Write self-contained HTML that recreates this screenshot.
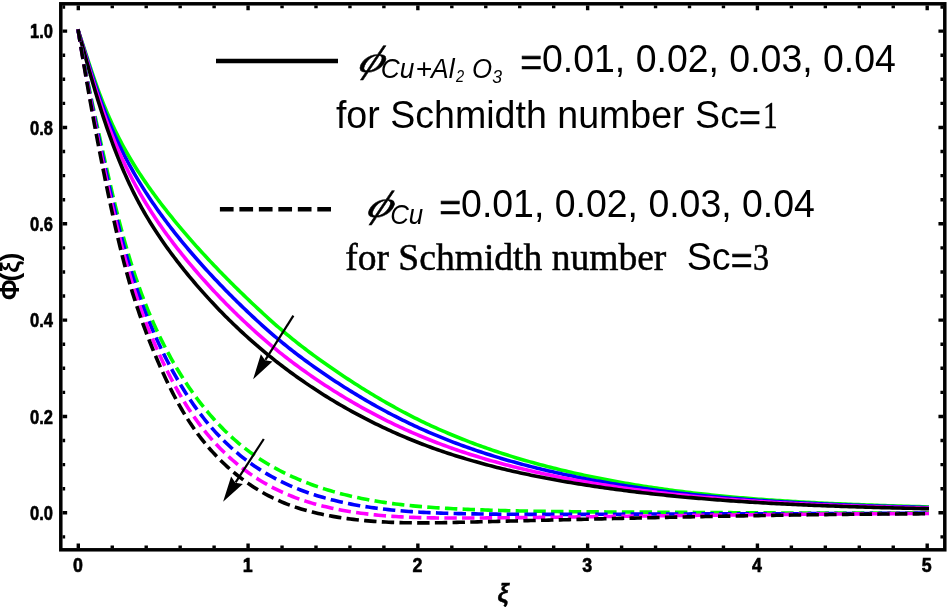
<!DOCTYPE html>
<html><head><meta charset="utf-8"><title>Concentration profile</title>
<style>html,body{margin:0;padding:0;background:#fff;overflow:hidden}svg{display:block}</style>
</head><body>
<svg width="948" height="607" viewBox="0 0 948 607">
<rect width="948" height="607" fill="#fff"/>
<path d="M78.30,31.10 L79.16,33.58 L80.01,36.06 L80.85,38.55 L81.69,41.04 L82.53,43.54 L83.35,46.04 L84.18,48.54 L85.00,51.04 L85.82,53.55 L86.64,56.05 L87.46,58.56 L88.29,61.07 L89.11,63.57 L89.94,66.08 L90.77,68.59 L91.60,71.09 L92.45,73.59 L93.29,76.10 L94.15,78.59 L95.01,81.09 L95.89,83.58 L96.77,86.07 L97.66,88.55 L98.57,91.03 L99.49,93.51 L100.42,95.98 L101.37,98.44 L102.32,100.90 L103.30,103.35 L104.28,105.80 L105.28,108.24 L106.29,110.67 L107.32,113.10 L108.36,115.52 L109.41,117.94 L110.48,120.34 L111.56,122.74 L112.66,125.14 L113.78,127.52 L114.91,129.90 L116.05,132.27 L117.21,134.63 L118.39,136.98 L119.59,139.33 L120.80,141.66 L122.02,143.99 L123.27,146.31 L124.53,148.62 L125.81,150.92 L127.10,153.21 L128.42,155.48 L129.75,157.76 L131.09,160.02 L132.46,162.27 L133.83,164.51 L135.23,166.74 L136.63,168.97 L138.06,171.19 L139.49,173.39 L140.94,175.59 L142.40,177.79 L143.88,179.97 L145.37,182.14 L146.87,184.31 L148.38,186.47 L149.91,188.62 L151.44,190.76 L152.99,192.90 L154.55,195.03 L156.11,197.15 L157.69,199.27 L159.28,201.37 L160.87,203.47 L162.47,205.57 L164.09,207.65 L165.71,209.73 L167.34,211.81 L168.97,213.87 L170.62,215.94 L172.27,217.99 L173.94,220.04 L175.61,222.08 L177.28,224.11 L178.97,226.14 L180.66,228.16 L182.36,230.18 L184.07,232.19 L185.79,234.19 L187.51,236.19 L189.24,238.18 L190.97,240.16 L192.72,242.14 L194.47,244.12 L196.22,246.09 L197.99,248.05 L199.76,250.00 L201.53,251.95 L203.32,253.90 L205.10,255.84 L206.90,257.77 L208.70,259.70 L210.51,261.63 L212.32,263.54 L214.14,265.46 L215.96,267.36 L217.79,269.27 L219.62,271.16 L221.46,273.05 L223.31,274.94 L225.16,276.82 L227.01,278.70 L228.87,280.57 L230.73,282.44 L232.60,284.30 L234.48,286.16 L236.35,288.01 L238.24,289.86 L240.12,291.71 L242.01,293.54 L243.91,295.38 L245.80,297.21 L247.70,299.04 L249.61,300.86 L251.52,302.68 L253.43,304.49 L255.35,306.30 L257.27,308.10 L259.19,309.90 L261.13,311.69 L263.06,313.47 L265.00,315.25 L266.95,317.03 L268.90,318.79 L270.86,320.55 L272.82,322.30 L274.79,324.04 L276.77,325.78 L278.76,327.50 L280.75,329.22 L282.75,330.93 L284.75,332.62 L286.77,334.31 L288.79,335.99 L290.83,337.66 L292.87,339.32 L294.92,340.96 L296.97,342.60 L299.04,344.23 L301.12,345.84 L303.20,347.45 L305.29,349.05 L307.38,350.64 L309.49,352.22 L311.60,353.79 L313.72,355.35 L315.84,356.91 L317.97,358.46 L320.11,359.99 L322.25,361.53 L324.40,363.05 L326.56,364.57 L328.72,366.08 L330.88,367.58 L333.05,369.08 L335.23,370.57 L337.41,372.05 L339.59,373.53 L341.78,375.00 L343.98,376.47 L346.18,377.92 L348.39,379.37 L350.60,380.82 L352.81,382.25 L355.03,383.68 L357.26,385.10 L359.49,386.52 L361.72,387.92 L363.96,389.32 L366.21,390.71 L368.46,392.09 L370.72,393.46 L372.98,394.82 L375.24,396.18 L377.52,397.53 L379.79,398.86 L382.07,400.19 L384.36,401.51 L386.65,402.82 L388.95,404.12 L391.25,405.41 L393.56,406.69 L395.87,407.97 L398.18,409.23 L400.51,410.48 L402.83,411.72 L405.17,412.95 L407.50,414.17 L409.85,415.38 L412.19,416.58 L414.55,417.77 L416.91,418.95 L419.27,420.11 L421.64,421.27 L424.01,422.41 L426.39,423.54 L428.78,424.66 L431.16,425.78 L433.56,426.87 L435.96,427.96 L438.36,429.04 L440.77,430.11 L443.18,431.16 L445.60,432.21 L448.02,433.24 L450.45,434.27 L452.88,435.28 L455.32,436.28 L457.76,437.28 L460.20,438.26 L462.65,439.23 L465.10,440.19 L467.56,441.15 L470.02,442.09 L472.48,443.02 L474.95,443.94 L477.42,444.86 L479.90,445.76 L482.38,446.65 L484.86,447.54 L487.35,448.41 L489.84,449.27 L492.33,450.13 L494.83,450.97 L497.33,451.81 L499.84,452.64 L502.34,453.46 L504.85,454.26 L507.37,455.06 L509.88,455.85 L512.40,456.64 L514.92,457.41 L517.45,458.17 L519.98,458.93 L522.51,459.68 L525.04,460.41 L527.58,461.14 L530.12,461.86 L532.66,462.58 L535.20,463.28 L537.75,463.98 L540.30,464.67 L542.85,465.34 L545.40,466.02 L547.95,466.68 L550.51,467.34 L553.07,467.98 L555.63,468.62 L558.19,469.26 L560.76,469.88 L563.32,470.50 L565.89,471.11 L568.46,471.71 L571.03,472.30 L573.61,472.89 L576.18,473.47 L578.76,474.04 L581.33,474.61 L583.91,475.17 L586.49,475.72 L589.07,476.26 L591.65,476.80 L594.24,477.33 L596.82,477.85 L599.41,478.37 L601.99,478.88 L604.58,479.39 L607.17,479.88 L609.76,480.37 L612.35,480.86 L614.94,481.33 L617.53,481.81 L620.12,482.27 L622.72,482.73 L625.31,483.18 L627.91,483.63 L630.51,484.07 L633.11,484.50 L635.70,484.93 L638.30,485.35 L640.91,485.77 L643.51,486.18 L646.11,486.58 L648.71,486.98 L651.32,487.37 L653.92,487.76 L656.53,488.14 L659.14,488.52 L661.74,488.89 L664.35,489.25 L666.96,489.61 L669.57,489.96 L672.18,490.31 L674.79,490.66 L677.41,490.99 L680.02,491.33 L682.63,491.65 L685.25,491.98 L687.86,492.30 L690.48,492.61 L693.09,492.92 L695.71,493.22 L698.33,493.52 L700.95,493.81 L703.57,494.10 L706.18,494.38 L708.81,494.66 L711.43,494.94 L714.05,495.21 L716.67,495.47 L719.29,495.74 L721.91,495.99 L724.54,496.25 L727.16,496.50 L729.79,496.74 L732.41,496.98 L735.04,497.22 L737.66,497.45 L740.29,497.68 L742.92,497.90 L745.54,498.12 L748.17,498.34 L750.80,498.55 L753.43,498.76 L756.06,498.97 L758.69,499.17 L761.31,499.37 L763.94,499.56 L766.58,499.75 L769.21,499.94 L771.84,500.13 L774.47,500.31 L777.10,500.48 L779.73,500.66 L782.36,500.83 L785.00,501.00 L787.63,501.16 L790.26,501.33 L792.89,501.49 L795.53,501.64 L798.16,501.80 L800.79,501.95 L803.43,502.10 L806.06,502.24 L808.70,502.38 L811.33,502.52 L813.96,502.66 L816.60,502.80 L819.23,502.93 L821.87,503.06 L824.50,503.19 L827.14,503.31 L829.77,503.44 L832.41,503.56 L835.04,503.68 L837.68,503.79 L840.31,503.91 L842.95,504.02 L845.58,504.13 L848.22,504.24 L850.85,504.35 L853.49,504.46 L856.12,504.56 L858.76,504.66 L861.39,504.76 L864.03,504.86 L866.66,504.96 L869.30,505.05 L871.93,505.15 L874.56,505.24 L877.20,505.33 L879.83,505.43 L882.47,505.51 L885.10,505.60 L887.73,505.69 L890.37,505.78 L893.00,505.86 L895.63,505.95 L898.26,506.03 L900.90,506.11 L903.53,506.19 L906.16,506.27 L908.79,506.35 L911.42,506.43 L914.05,506.51 L916.68,506.59 L919.31,506.67 L921.94,506.75 L924.57,506.82 L927.20,506.90" fill="none" stroke="#00ff00" stroke-width="3.6" stroke-linecap="square" stroke-linejoin="round"/>
<path d="M78.30,31.10 L79.11,33.61 L79.91,36.13 L80.71,38.66 L81.51,41.18 L82.30,43.71 L83.09,46.24 L83.88,48.77 L84.66,51.30 L85.45,53.83 L86.24,56.37 L87.02,58.90 L87.81,61.44 L88.61,63.97 L89.40,66.51 L90.20,69.04 L91.00,71.57 L91.81,74.11 L92.62,76.64 L93.44,79.16 L94.27,81.69 L95.10,84.21 L95.95,86.73 L96.80,89.25 L97.66,91.76 L98.54,94.27 L99.42,96.77 L100.31,99.27 L101.22,101.77 L102.13,104.26 L103.06,106.75 L104.00,109.23 L104.95,111.71 L105.91,114.18 L106.88,116.65 L107.87,119.11 L108.87,121.56 L109.88,124.01 L110.91,126.46 L111.94,128.89 L113.00,131.32 L114.06,133.75 L115.14,136.16 L116.23,138.57 L117.34,140.98 L118.46,143.37 L119.60,145.76 L120.75,148.14 L121.92,150.52 L123.11,152.88 L124.30,155.24 L125.52,157.59 L126.75,159.93 L127.99,162.26 L129.25,164.59 L130.53,166.90 L131.81,169.21 L133.12,171.51 L134.43,173.81 L135.77,176.09 L137.11,178.37 L138.47,180.64 L139.84,182.90 L141.23,185.15 L142.63,187.40 L144.04,189.64 L145.47,191.87 L146.91,194.09 L148.36,196.30 L149.82,198.51 L151.30,200.71 L152.79,202.90 L154.29,205.08 L155.80,207.26 L157.33,209.42 L158.86,211.59 L160.41,213.74 L161.96,215.88 L163.53,218.02 L165.11,220.15 L166.70,222.27 L168.30,224.39 L169.91,226.50 L171.53,228.60 L173.16,230.69 L174.80,232.78 L176.44,234.86 L178.10,236.93 L179.77,239.00 L181.45,241.06 L183.13,243.11 L184.82,245.16 L186.53,247.19 L188.24,249.23 L189.96,251.25 L191.68,253.27 L193.42,255.28 L195.16,257.29 L196.91,259.28 L198.67,261.28 L200.43,263.26 L202.20,265.24 L203.98,267.21 L205.77,269.18 L207.56,271.14 L209.36,273.10 L211.17,275.04 L212.98,276.98 L214.80,278.92 L216.62,280.85 L218.45,282.77 L220.29,284.69 L222.14,286.60 L223.99,288.50 L225.84,290.40 L227.70,292.29 L229.57,294.18 L231.45,296.06 L233.32,297.94 L235.21,299.80 L237.10,301.67 L239.00,303.52 L240.90,305.37 L242.80,307.22 L244.72,309.06 L246.63,310.89 L248.56,312.72 L250.49,314.53 L252.42,316.35 L254.36,318.15 L256.31,319.95 L258.26,321.74 L260.22,323.53 L262.19,325.30 L264.16,327.07 L266.14,328.83 L268.13,330.58 L270.12,332.32 L272.13,334.06 L274.14,335.78 L276.16,337.50 L278.18,339.20 L280.22,340.90 L282.26,342.58 L284.31,344.26 L286.37,345.92 L288.44,347.58 L290.51,349.22 L292.60,350.86 L294.69,352.48 L296.79,354.10 L298.90,355.70 L301.02,357.30 L303.14,358.88 L305.27,360.46 L307.41,362.03 L309.56,363.59 L311.71,365.14 L313.87,366.68 L316.03,368.21 L318.21,369.74 L320.39,371.25 L322.57,372.76 L324.76,374.26 L326.96,375.75 L329.16,377.24 L331.37,378.72 L333.58,380.18 L335.80,381.64 L338.03,383.10 L340.26,384.54 L342.50,385.98 L344.74,387.41 L346.99,388.82 L349.24,390.23 L351.50,391.64 L353.77,393.03 L356.04,394.41 L358.31,395.79 L360.59,397.15 L362.88,398.51 L365.17,399.85 L367.47,401.19 L369.77,402.52 L372.08,403.84 L374.40,405.15 L376.71,406.45 L379.04,407.73 L381.37,409.01 L383.70,410.28 L386.04,411.54 L388.39,412.79 L390.74,414.02 L393.10,415.25 L395.46,416.47 L397.82,417.67 L400.20,418.87 L402.57,420.05 L404.95,421.22 L407.34,422.39 L409.73,423.54 L412.13,424.68 L414.53,425.80 L416.94,426.92 L419.35,428.02 L421.77,429.12 L424.19,430.20 L426.62,431.27 L429.05,432.33 L431.48,433.38 L433.92,434.41 L436.37,435.44 L438.82,436.45 L441.27,437.45 L443.73,438.45 L446.19,439.43 L448.66,440.40 L451.13,441.36 L453.60,442.31 L456.08,443.24 L458.57,444.17 L461.05,445.09 L463.54,446.00 L466.04,446.89 L468.54,447.78 L471.04,448.66 L473.54,449.52 L476.05,450.38 L478.56,451.23 L481.08,452.06 L483.60,452.89 L486.12,453.71 L488.65,454.52 L491.18,455.31 L493.71,456.10 L496.25,456.88 L498.78,457.65 L501.33,458.42 L503.87,459.17 L506.42,459.91 L508.97,460.65 L511.52,461.37 L514.08,462.09 L516.63,462.80 L519.20,463.50 L521.76,464.19 L524.32,464.87 L526.89,465.55 L529.46,466.21 L532.04,466.87 L534.61,467.52 L537.19,468.16 L539.77,468.80 L542.35,469.42 L544.93,470.04 L547.52,470.65 L550.10,471.26 L552.69,471.85 L555.28,472.44 L557.87,473.02 L560.47,473.59 L563.06,474.16 L565.66,474.72 L568.26,475.27 L570.86,475.82 L573.46,476.35 L576.06,476.89 L578.66,477.41 L581.27,477.93 L583.88,478.44 L586.48,478.94 L589.09,479.44 L591.70,479.94 L594.31,480.42 L596.92,480.90 L599.53,481.37 L602.14,481.84 L604.76,482.30 L607.37,482.76 L609.99,483.21 L612.60,483.65 L615.22,484.09 L617.84,484.52 L620.45,484.94 L623.07,485.36 L625.69,485.78 L628.31,486.19 L630.94,486.59 L633.56,486.99 L636.18,487.38 L638.80,487.77 L641.43,488.15 L644.05,488.52 L646.68,488.89 L649.31,489.26 L651.94,489.62 L654.56,489.97 L657.19,490.32 L659.82,490.67 L662.45,491.00 L665.08,491.34 L667.72,491.67 L670.35,491.99 L672.98,492.31 L675.61,492.63 L678.25,492.94 L680.88,493.24 L683.52,493.54 L686.15,493.84 L688.79,494.13 L691.43,494.42 L694.07,494.70 L696.70,494.98 L699.34,495.25 L701.98,495.52 L704.62,495.78 L707.26,496.04 L709.90,496.30 L712.54,496.55 L715.19,496.80 L717.83,497.05 L720.47,497.29 L723.11,497.52 L725.76,497.75 L728.40,497.98 L731.04,498.21 L733.69,498.43 L736.33,498.64 L738.98,498.86 L741.63,499.07 L744.27,499.27 L746.92,499.47 L749.57,499.67 L752.21,499.87 L754.86,500.06 L757.51,500.25 L760.16,500.44 L762.81,500.62 L765.46,500.80 L768.10,500.97 L770.75,501.15 L773.40,501.31 L776.05,501.48 L778.70,501.65 L781.35,501.81 L784.00,501.96 L786.66,502.12 L789.31,502.27 L791.96,502.42 L794.61,502.57 L797.26,502.71 L799.91,502.85 L802.57,502.99 L805.22,503.13 L807.87,503.26 L810.52,503.39 L813.17,503.52 L815.83,503.65 L818.48,503.77 L821.13,503.90 L823.79,504.02 L826.44,504.13 L829.09,504.25 L831.74,504.36 L834.40,504.48 L837.05,504.59 L839.70,504.69 L842.36,504.80 L845.01,504.90 L847.66,505.01 L850.32,505.11 L852.97,505.21 L855.62,505.30 L858.27,505.40 L860.93,505.49 L863.58,505.59 L866.23,505.68 L868.89,505.77 L871.54,505.86 L874.19,505.95 L876.84,506.03 L879.49,506.12 L882.15,506.20 L884.80,506.28 L887.45,506.37 L890.10,506.45 L892.75,506.53 L895.40,506.61 L898.06,506.68 L900.71,506.76 L903.36,506.84 L906.01,506.91 L908.66,506.99 L911.31,507.06 L913.96,507.14 L916.61,507.21 L919.25,507.28 L921.90,507.36 L924.55,507.43 L927.20,507.50" fill="none" stroke="#0000ff" stroke-width="3.6" stroke-linecap="square" stroke-linejoin="round"/>
<path d="M78.30,31.10 L79.06,33.65 L79.82,36.20 L80.57,38.76 L81.32,41.32 L82.07,43.87 L82.83,46.43 L83.58,48.99 L84.33,51.56 L85.08,54.12 L85.83,56.68 L86.59,59.25 L87.34,61.81 L88.10,64.37 L88.86,66.93 L89.63,69.50 L90.40,72.06 L91.17,74.62 L91.95,77.18 L92.74,79.73 L93.53,82.29 L94.32,84.84 L95.12,87.39 L95.94,89.94 L96.75,92.49 L97.58,95.03 L98.41,97.57 L99.26,100.11 L100.11,102.64 L100.97,105.17 L101.84,107.70 L102.72,110.22 L103.60,112.74 L104.50,115.26 L105.41,117.77 L106.33,120.28 L107.26,122.78 L108.20,125.28 L109.15,127.77 L110.11,130.26 L111.09,132.75 L112.07,135.22 L113.07,137.70 L114.08,140.16 L115.10,142.63 L116.13,145.08 L117.18,147.53 L118.24,149.98 L119.32,152.42 L120.40,154.85 L121.50,157.27 L122.62,159.69 L123.75,162.10 L124.89,164.51 L126.05,166.91 L127.22,169.30 L128.40,171.68 L129.60,174.06 L130.81,176.43 L132.04,178.79 L133.28,181.15 L134.54,183.49 L135.81,185.83 L137.09,188.17 L138.39,190.49 L139.70,192.81 L141.03,195.11 L142.37,197.41 L143.73,199.71 L145.10,201.99 L146.49,204.27 L147.89,206.53 L149.30,208.79 L150.73,211.04 L152.18,213.28 L153.63,215.52 L155.11,217.74 L156.59,219.96 L158.09,222.17 L159.60,224.37 L161.12,226.56 L162.66,228.74 L164.21,230.92 L165.77,233.09 L167.35,235.25 L168.93,237.40 L170.53,239.54 L172.14,241.68 L173.75,243.81 L175.38,245.93 L177.02,248.04 L178.68,250.15 L180.34,252.24 L182.01,254.33 L183.69,256.42 L185.38,258.49 L187.08,260.56 L188.79,262.62 L190.51,264.67 L192.23,266.71 L193.97,268.75 L195.71,270.78 L197.46,272.80 L199.22,274.82 L200.99,276.83 L202.76,278.83 L204.54,280.82 L206.33,282.81 L208.13,284.78 L209.94,286.76 L211.75,288.72 L213.57,290.68 L215.40,292.63 L217.24,294.57 L219.08,296.50 L220.93,298.43 L222.79,300.35 L224.66,302.26 L226.53,304.17 L228.41,306.06 L230.29,307.95 L232.19,309.84 L234.09,311.71 L236.00,313.58 L237.91,315.44 L239.84,317.29 L241.76,319.13 L243.70,320.97 L245.65,322.80 L247.60,324.62 L249.55,326.43 L251.52,328.23 L253.49,330.03 L255.48,331.82 L257.46,333.59 L259.46,335.36 L261.47,337.12 L263.48,338.87 L265.50,340.61 L267.53,342.35 L269.56,344.07 L271.61,345.78 L273.66,347.48 L275.72,349.18 L277.79,350.86 L279.87,352.53 L281.96,354.19 L284.05,355.84 L286.16,357.49 L288.27,359.12 L290.39,360.74 L292.52,362.35 L294.65,363.96 L296.80,365.55 L298.95,367.13 L301.11,368.70 L303.27,370.27 L305.45,371.82 L307.63,373.36 L309.82,374.90 L312.01,376.42 L314.22,377.94 L316.42,379.45 L318.64,380.94 L320.86,382.43 L323.09,383.91 L325.33,385.38 L327.57,386.84 L329.82,388.29 L332.08,389.73 L334.34,391.16 L336.61,392.58 L338.88,393.99 L341.16,395.39 L343.45,396.79 L345.74,398.17 L348.04,399.54 L350.35,400.90 L352.66,402.25 L354.98,403.60 L357.30,404.93 L359.63,406.25 L361.96,407.56 L364.30,408.86 L366.65,410.15 L369.00,411.43 L371.36,412.70 L373.72,413.96 L376.09,415.20 L378.46,416.44 L380.84,417.67 L383.23,418.88 L385.61,420.08 L388.01,421.28 L390.41,422.46 L392.82,423.63 L395.23,424.79 L397.64,425.93 L400.06,427.07 L402.49,428.19 L404.92,429.31 L407.35,430.41 L409.80,431.50 L412.24,432.57 L414.69,433.64 L417.15,434.69 L419.60,435.73 L422.07,436.76 L424.54,437.78 L427.01,438.79 L429.49,439.79 L431.97,440.77 L434.45,441.74 L436.94,442.70 L439.44,443.65 L441.93,444.59 L444.44,445.51 L446.94,446.43 L449.45,447.33 L451.97,448.23 L454.48,449.11 L457.00,449.98 L459.53,450.85 L462.06,451.70 L464.59,452.54 L467.12,453.37 L469.66,454.19 L472.21,455.00 L474.75,455.80 L477.30,456.59 L479.85,457.37 L482.41,458.14 L484.96,458.90 L487.53,459.65 L490.09,460.40 L492.66,461.13 L495.23,461.85 L497.80,462.57 L500.37,463.27 L502.95,463.97 L505.53,464.66 L508.12,465.34 L510.70,466.01 L513.29,466.67 L515.88,467.32 L518.47,467.96 L521.07,468.60 L523.67,469.23 L526.27,469.85 L528.87,470.46 L531.47,471.07 L534.08,471.66 L536.69,472.25 L539.30,472.83 L541.91,473.40 L544.52,473.97 L547.14,474.53 L549.75,475.08 L552.37,475.62 L554.99,476.16 L557.61,476.69 L560.23,477.21 L562.86,477.73 L565.48,478.24 L568.11,478.74 L570.74,479.24 L573.37,479.73 L576.00,480.21 L578.63,480.69 L581.26,481.16 L583.89,481.63 L586.53,482.09 L589.16,482.54 L591.80,482.99 L594.43,483.43 L597.07,483.87 L599.71,484.30 L602.34,484.72 L604.98,485.14 L607.62,485.56 L610.26,485.97 L612.90,486.37 L615.55,486.77 L618.19,487.16 L620.83,487.55 L623.48,487.93 L626.12,488.31 L628.77,488.68 L631.41,489.05 L634.06,489.41 L636.70,489.76 L639.35,490.12 L642.00,490.46 L644.65,490.81 L647.30,491.14 L649.95,491.48 L652.60,491.80 L655.25,492.13 L657.90,492.44 L660.55,492.76 L663.21,493.07 L665.86,493.37 L668.51,493.67 L671.17,493.97 L673.82,494.26 L676.48,494.55 L679.13,494.83 L681.79,495.11 L684.45,495.38 L687.10,495.65 L689.76,495.92 L692.42,496.18 L695.08,496.44 L697.74,496.69 L700.40,496.94 L703.06,497.18 L705.72,497.43 L708.38,497.66 L711.04,497.90 L713.70,498.13 L716.36,498.35 L719.03,498.58 L721.69,498.80 L724.35,499.01 L727.01,499.22 L729.68,499.43 L732.34,499.64 L735.01,499.84 L737.67,500.04 L740.34,500.23 L743.00,500.42 L745.67,500.61 L748.33,500.80 L751.00,500.98 L753.67,501.16 L756.33,501.33 L759.00,501.50 L761.67,501.67 L764.34,501.84 L767.00,502.00 L769.67,502.17 L772.34,502.32 L775.01,502.48 L777.68,502.63 L780.35,502.78 L783.01,502.93 L785.68,503.07 L788.35,503.21 L791.02,503.35 L793.69,503.49 L796.36,503.62 L799.03,503.76 L801.70,503.89 L804.37,504.01 L807.04,504.14 L809.71,504.26 L812.38,504.38 L815.05,504.50 L817.72,504.62 L820.40,504.73 L823.07,504.84 L825.74,504.95 L828.41,505.06 L831.08,505.17 L833.75,505.27 L836.42,505.38 L839.09,505.48 L841.76,505.58 L844.43,505.67 L847.11,505.77 L849.78,505.86 L852.45,505.96 L855.12,506.05 L857.79,506.14 L860.46,506.23 L863.13,506.31 L865.80,506.40 L868.47,506.48 L871.14,506.57 L873.82,506.65 L876.49,506.73 L879.16,506.81 L881.83,506.89 L884.50,506.97 L887.17,507.04 L889.84,507.12 L892.51,507.19 L895.18,507.27 L897.85,507.34 L900.52,507.41 L903.19,507.48 L905.85,507.55 L908.52,507.62 L911.19,507.69 L913.86,507.76 L916.53,507.83 L919.20,507.90 L921.86,507.97 L924.53,508.03 L927.20,508.10" fill="none" stroke="#ff00ff" stroke-width="3.6" stroke-linecap="square" stroke-linejoin="round"/>
<path d="M78.30,31.10 L79.01,33.69 L79.72,36.27 L80.43,38.86 L81.14,41.45 L81.85,44.04 L82.56,46.63 L83.27,49.22 L83.99,51.81 L84.71,54.41 L85.43,57.00 L86.15,59.59 L86.87,62.18 L87.60,64.77 L88.33,67.36 L89.06,69.95 L89.80,72.54 L90.54,75.13 L91.28,77.72 L92.03,80.30 L92.78,82.89 L93.54,85.47 L94.30,88.06 L95.07,90.64 L95.84,93.22 L96.62,95.79 L97.41,98.37 L98.20,100.94 L99.00,103.52 L99.80,106.09 L100.62,108.65 L101.44,111.22 L102.26,113.78 L103.10,116.34 L103.94,118.90 L104.79,121.45 L105.65,124.00 L106.52,126.55 L107.39,129.09 L108.28,131.63 L109.17,134.17 L110.08,136.70 L110.99,139.23 L111.92,141.75 L112.86,144.28 L113.80,146.79 L114.76,149.30 L115.73,151.81 L116.71,154.32 L117.70,156.81 L118.70,159.31 L119.72,161.80 L120.75,164.28 L121.79,166.76 L122.84,169.23 L123.91,171.69 L124.99,174.15 L126.08,176.60 L127.19,179.05 L128.32,181.49 L129.45,183.92 L130.60,186.35 L131.77,188.77 L132.95,191.18 L134.15,193.58 L135.36,195.97 L136.59,198.36 L137.84,200.74 L139.10,203.11 L140.38,205.47 L141.67,207.82 L142.99,210.17 L144.32,212.50 L145.66,214.82 L147.03,217.14 L148.41,219.45 L149.81,221.74 L151.22,224.03 L152.65,226.31 L154.09,228.58 L155.55,230.84 L157.02,233.10 L158.51,235.34 L160.02,237.57 L161.53,239.80 L163.06,242.02 L164.61,244.23 L166.17,246.42 L167.74,248.62 L169.32,250.80 L170.92,252.97 L172.53,255.14 L174.15,257.29 L175.78,259.44 L177.42,261.58 L179.07,263.71 L180.74,265.83 L182.41,267.95 L184.10,270.05 L185.79,272.15 L187.50,274.24 L189.21,276.32 L190.94,278.39 L192.67,280.46 L194.41,282.51 L196.16,284.56 L197.92,286.60 L199.69,288.63 L201.47,290.65 L203.25,292.66 L205.05,294.67 L206.85,296.67 L208.67,298.65 L210.49,300.63 L212.32,302.60 L214.16,304.56 L216.01,306.52 L217.86,308.46 L219.73,310.40 L221.61,312.32 L223.49,314.24 L225.38,316.15 L227.28,318.05 L229.19,319.94 L231.11,321.82 L233.04,323.69 L234.97,325.55 L236.92,327.41 L238.87,329.25 L240.83,331.08 L242.80,332.91 L244.78,334.73 L246.77,336.53 L248.76,338.33 L250.77,340.12 L252.78,341.89 L254.80,343.66 L256.83,345.42 L258.87,347.17 L260.92,348.91 L262.97,350.64 L265.04,352.36 L267.11,354.07 L269.19,355.77 L271.28,357.46 L273.37,359.14 L275.48,360.81 L277.59,362.47 L279.72,364.12 L281.85,365.76 L283.98,367.39 L286.13,369.00 L288.29,370.61 L290.45,372.21 L292.62,373.80 L294.80,375.38 L296.99,376.95 L299.18,378.50 L301.39,380.05 L303.60,381.58 L305.82,383.11 L308.05,384.63 L310.28,386.13 L312.52,387.62 L314.77,389.11 L317.03,390.58 L319.29,392.04 L321.56,393.49 L323.84,394.93 L326.13,396.36 L328.42,397.78 L330.72,399.18 L333.03,400.58 L335.34,401.96 L337.66,403.34 L339.99,404.70 L342.32,406.05 L344.66,407.39 L347.01,408.72 L349.36,410.04 L351.72,411.35 L354.08,412.64 L356.45,413.93 L358.83,415.20 L361.21,416.46 L363.60,417.71 L366.00,418.95 L368.40,420.18 L370.81,421.40 L373.22,422.60 L375.64,423.79 L378.06,424.97 L380.49,426.14 L382.92,427.30 L385.36,428.45 L387.81,429.58 L390.26,430.70 L392.71,431.81 L395.17,432.91 L397.64,434.00 L400.10,435.07 L402.58,436.14 L405.06,437.19 L407.54,438.23 L410.03,439.25 L412.52,440.27 L415.02,441.27 L417.52,442.26 L420.03,443.24 L422.54,444.20 L425.05,445.16 L427.57,446.10 L430.09,447.03 L432.61,447.95 L435.14,448.85 L437.68,449.75 L440.21,450.63 L442.76,451.50 L445.30,452.36 L447.85,453.21 L450.40,454.05 L452.96,454.88 L455.51,455.69 L458.08,456.50 L460.64,457.30 L463.21,458.08 L465.78,458.86 L468.36,459.62 L470.94,460.37 L473.52,461.12 L476.10,461.85 L478.69,462.58 L481.28,463.29 L483.87,463.99 L486.47,464.69 L489.07,465.38 L491.67,466.05 L494.27,466.72 L496.88,467.38 L499.49,468.03 L502.10,468.67 L504.71,469.30 L507.33,469.92 L509.95,470.54 L512.57,471.14 L515.19,471.74 L517.82,472.33 L520.44,472.91 L523.07,473.49 L525.70,474.05 L528.34,474.61 L530.97,475.16 L533.61,475.70 L536.24,476.24 L538.88,476.77 L541.53,477.29 L544.17,477.80 L546.81,478.31 L549.46,478.81 L552.11,479.30 L554.76,479.79 L557.41,480.27 L560.06,480.74 L562.71,481.21 L565.36,481.67 L568.02,482.12 L570.67,482.57 L573.33,483.01 L575.99,483.45 L578.64,483.88 L581.30,484.31 L583.96,484.73 L586.62,485.14 L589.28,485.55 L591.95,485.96 L594.61,486.36 L597.27,486.75 L599.93,487.14 L602.60,487.53 L605.26,487.91 L607.93,488.28 L610.59,488.65 L613.26,489.02 L615.92,489.38 L618.59,489.73 L621.26,490.08 L623.93,490.43 L626.60,490.77 L629.26,491.10 L631.93,491.44 L634.60,491.76 L637.27,492.09 L639.95,492.41 L642.62,492.72 L645.29,493.03 L647.96,493.33 L650.63,493.64 L653.31,493.93 L655.98,494.22 L658.65,494.51 L661.33,494.80 L664.00,495.08 L666.68,495.35 L669.36,495.62 L672.03,495.89 L674.71,496.16 L677.38,496.42 L680.06,496.67 L682.74,496.92 L685.42,497.17 L688.10,497.42 L690.77,497.66 L693.45,497.89 L696.13,498.13 L698.81,498.36 L701.49,498.58 L704.17,498.81 L706.85,499.03 L709.54,499.24 L712.22,499.45 L714.90,499.66 L717.58,499.87 L720.26,500.07 L722.95,500.27 L725.63,500.46 L728.31,500.66 L731.00,500.85 L733.68,501.03 L736.36,501.22 L739.05,501.40 L741.73,501.57 L744.42,501.75 L747.10,501.92 L749.79,502.09 L752.47,502.25 L755.16,502.41 L757.84,502.57 L760.53,502.73 L763.22,502.88 L765.90,503.04 L768.59,503.19 L771.27,503.33 L773.96,503.48 L776.65,503.62 L779.34,503.76 L782.02,503.89 L784.71,504.03 L787.40,504.16 L790.09,504.29 L792.77,504.41 L795.46,504.54 L798.15,504.66 L800.84,504.78 L803.53,504.90 L806.22,505.02 L808.90,505.13 L811.59,505.24 L814.28,505.35 L816.97,505.46 L819.66,505.57 L822.35,505.67 L825.04,505.77 L827.73,505.87 L830.41,505.97 L833.10,506.07 L835.79,506.17 L838.48,506.26 L841.17,506.35 L843.86,506.44 L846.55,506.53 L849.24,506.62 L851.93,506.71 L854.62,506.79 L857.31,506.88 L860.00,506.96 L862.69,507.04 L865.37,507.12 L868.06,507.20 L870.75,507.28 L873.44,507.35 L876.13,507.43 L878.82,507.50 L881.51,507.58 L884.20,507.65 L886.88,507.72 L889.57,507.79 L892.26,507.86 L894.95,507.93 L897.64,507.99 L900.33,508.06 L903.01,508.13 L905.70,508.19 L908.39,508.26 L911.08,508.32 L913.77,508.39 L916.45,508.45 L919.14,508.51 L921.83,508.58 L924.51,508.64 L927.20,508.70" fill="none" stroke="#000000" stroke-width="3.6" stroke-linecap="square" stroke-linejoin="round"/>
<path d="M77.99,29.33 L78.30,31.10 L78.79,33.95 L79.30,36.79 L79.80,39.64 L80.31,42.48 L80.83,45.33 L81.35,48.17 L81.87,51.01 L82.40,53.85 L82.94,56.69 L83.48,59.53 L84.02,62.36 L84.57,65.20 L85.12,68.04 L85.67,70.87 L86.23,73.70 L86.80,76.54 L87.36,79.37 L87.94,82.20 L88.51,85.03 L89.09,87.86 L89.67,90.69 L90.25,93.52 L90.84,96.34 L91.43,99.17 L92.03,102.00 L92.62,104.82 L93.22,107.65 L93.82,110.47 L94.43,113.30 L95.03,116.12 L95.64,118.95 L96.25,121.77 L96.87,124.59 L97.48,127.42 L98.10,130.24 L98.72,133.06 L99.34,135.89 L99.96,138.71 L100.59,141.53 L101.21,144.35 L101.84,147.17 L102.47,150.00 L103.10,152.82 L103.73,155.64 L104.36,158.46 L104.99,161.28 L105.62,164.11 L106.26,166.93 L106.90,169.75 L107.53,172.57 L108.18,175.39 L108.82,178.21 L109.47,181.03 L110.12,183.85 L110.77,186.67 L111.43,189.48 L112.09,192.30 L112.76,195.11 L113.43,197.93 L114.10,200.74 L114.78,203.55 L115.47,206.36 L116.16,209.16 L116.86,211.97 L117.56,214.77 L118.27,217.57 L118.99,220.37 L119.71,223.17 L120.44,225.96 L121.18,228.75 L121.93,231.54 L122.69,234.33 L123.45,237.11 L124.22,239.89 L125.00,242.67 L125.79,245.45 L126.59,248.22 L127.40,250.99 L128.22,253.75 L129.05,256.51 L129.89,259.27 L130.74,262.03 L131.61,264.78 L132.48,267.52 L133.37,270.27 L134.26,273.01 L135.17,275.74 L136.10,278.47 L137.03,281.20 L137.98,283.92 L138.94,286.64 L139.92,289.35 L140.91,292.06 L141.91,294.76 L142.93,297.46 L143.96,300.15 L145.01,302.84 L146.07,305.52 L147.15,308.19 L148.24,310.87 L149.35,313.53 L150.47,316.19 L151.62,318.84 L152.77,321.49 L153.94,324.13 L155.13,326.76 L156.34,329.39 L157.56,332.00 L158.80,334.62 L160.06,337.22 L161.34,339.82 L162.63,342.40 L163.94,344.98 L165.27,347.56 L166.61,350.12 L167.97,352.67 L169.36,355.22 L170.76,357.76 L172.18,360.28 L173.62,362.80 L175.07,365.31 L176.55,367.81 L178.05,370.30 L179.56,372.78 L181.10,375.25 L182.65,377.71 L184.23,380.16 L185.82,382.59 L187.44,385.01 L189.07,387.42 L190.73,389.82 L192.40,392.20 L194.10,394.57 L195.82,396.92 L197.56,399.25 L199.31,401.57 L201.09,403.87 L202.89,406.15 L204.72,408.42 L206.56,410.66 L208.42,412.89 L210.31,415.09 L212.21,417.28 L214.14,419.44 L216.09,421.58 L218.06,423.70 L220.05,425.80 L222.07,427.87 L224.11,429.92 L226.16,431.94 L228.25,433.94 L230.35,435.91 L232.47,437.85 L234.62,439.77 L236.79,441.66 L238.99,443.52 L241.20,445.36 L243.44,447.16 L245.70,448.93 L247.98,450.67 L250.29,452.39 L252.62,454.06 L254.98,455.71 L257.35,457.33 L259.75,458.91 L262.16,460.47 L264.60,461.99 L267.06,463.49 L269.54,464.95 L272.03,466.38 L274.55,467.79 L277.08,469.16 L279.63,470.51 L282.20,471.82 L284.78,473.11 L287.38,474.37 L289.99,475.60 L292.62,476.80 L295.26,477.97 L297.91,479.12 L300.58,480.24 L303.26,481.33 L305.95,482.40 L308.66,483.44 L311.37,484.45 L314.10,485.44 L316.83,486.40 L319.57,487.33 L322.32,488.24 L325.09,489.12 L327.85,489.98 L330.63,490.82 L333.41,491.63 L336.20,492.41 L338.99,493.17 L341.79,493.91 L344.59,494.63 L347.39,495.32 L350.21,495.98 L353.02,496.63 L355.84,497.25 L358.66,497.86 L361.49,498.44 L364.32,499.00 L367.16,499.54 L370.00,500.07 L372.84,500.57 L375.68,501.05 L378.53,501.52 L381.38,501.97 L384.24,502.40 L387.10,502.82 L389.96,503.21 L392.82,503.60 L395.69,503.96 L398.56,504.32 L401.43,504.65 L404.30,504.97 L407.17,505.28 L410.05,505.58 L412.93,505.86 L415.81,506.13 L418.69,506.39 L421.58,506.64 L424.46,506.87 L427.35,507.10 L430.24,507.31 L433.13,507.52 L436.02,507.71 L438.91,507.90 L441.80,508.07 L444.70,508.24 L447.59,508.41 L450.48,508.56 L453.38,508.71 L456.27,508.85 L459.17,508.99 L462.06,509.12 L464.95,509.24 L467.85,509.36 L470.74,509.48 L473.64,509.59 L476.53,509.70 L479.42,509.81 L482.31,509.91 L485.20,510.01 L488.10,510.10 L490.99,510.19 L493.88,510.28 L496.77,510.37 L499.66,510.45 L502.55,510.53 L505.44,510.61 L508.33,510.68 L511.21,510.75 L514.10,510.82 L516.99,510.88 L519.88,510.94 L522.77,511.00 L525.65,511.06 L528.54,511.12 L531.43,511.17 L534.31,511.22 L537.20,511.27 L540.09,511.31 L542.97,511.35 L545.86,511.40 L548.75,511.44 L551.63,511.47 L554.52,511.51 L557.40,511.54 L560.29,511.58 L563.17,511.61 L566.06,511.64 L568.95,511.67 L571.83,511.69 L574.72,511.72 L577.60,511.74 L580.49,511.76 L583.37,511.79 L586.26,511.81 L589.14,511.83 L592.03,511.85 L594.91,511.87 L597.80,511.88 L600.68,511.90 L603.57,511.92 L606.45,511.93 L609.34,511.95 L612.22,511.96 L615.11,511.98 L617.99,511.99 L620.88,512.01 L623.77,512.02 L626.65,512.03 L629.54,512.05 L632.43,512.06 L635.31,512.08 L638.20,512.09 L641.09,512.11 L643.97,512.12 L646.86,512.14 L649.75,512.15 L652.64,512.17 L655.52,512.19 L658.41,512.20 L661.30,512.22 L664.19,512.24 L667.08,512.26 L669.97,512.28 L672.86,512.29 L675.75,512.31 L678.64,512.33 L681.52,512.35 L684.41,512.37 L687.30,512.39 L690.19,512.41 L693.08,512.42 L695.97,512.44 L698.87,512.46 L701.76,512.48 L704.65,512.50 L707.54,512.52 L710.43,512.54 L713.32,512.56 L716.21,512.58 L719.10,512.60 L721.99,512.62 L724.88,512.63 L727.77,512.65 L730.67,512.67 L733.56,512.69 L736.45,512.71 L739.34,512.73 L742.23,512.74 L745.12,512.76 L748.02,512.78 L750.91,512.80 L753.80,512.81 L756.69,512.83 L759.58,512.85 L762.47,512.86 L765.37,512.88 L768.26,512.89 L771.15,512.91 L774.04,512.92 L776.93,512.94 L779.83,512.95 L782.72,512.96 L785.61,512.98 L788.50,512.99 L791.39,513.00 L794.29,513.01 L797.18,513.02 L800.07,513.03 L802.96,513.04 L805.85,513.05 L808.74,513.06 L811.64,513.07 L814.53,513.08 L817.42,513.08 L820.31,513.09 L823.20,513.09 L826.09,513.10 L828.98,513.10 L831.87,513.11 L834.76,513.11 L837.66,513.11 L840.55,513.11 L843.44,513.11 L846.33,513.11 L849.22,513.11 L852.11,513.11 L855.00,513.10 L857.89,513.10 L860.78,513.10 L863.67,513.09 L866.56,513.08 L869.45,513.08 L872.34,513.07 L875.23,513.06 L878.12,513.05 L881.00,513.03 L883.89,513.02 L886.78,513.01 L889.67,512.99 L892.56,512.98 L895.45,512.96 L898.33,512.94 L901.22,512.92 L904.11,512.90 L907.00,512.88 L909.88,512.86 L912.77,512.84 L915.66,512.81 L918.54,512.79 L921.43,512.76 L924.31,512.73 L927.20,512.70 L929.00,512.68" fill="none" stroke="#00ff00" stroke-width="3.6" stroke-dasharray="12.4 5.3" stroke-linejoin="round"/>
<path d="M78.00,29.33 L78.30,31.10 L78.79,33.97 L79.28,36.84 L79.77,39.71 L80.27,42.58 L80.78,45.45 L81.29,48.32 L81.80,51.18 L82.31,54.05 L82.83,56.91 L83.35,59.78 L83.88,62.64 L84.41,65.51 L84.94,68.37 L85.48,71.23 L86.02,74.09 L86.56,76.95 L87.11,79.81 L87.66,82.67 L88.21,85.53 L88.76,88.38 L89.32,91.24 L89.88,94.10 L90.45,96.95 L91.02,99.81 L91.59,102.67 L92.16,105.52 L92.73,108.37 L93.31,111.23 L93.89,114.08 L94.47,116.94 L95.06,119.79 L95.65,122.64 L96.24,125.49 L96.83,128.34 L97.42,131.20 L98.02,134.05 L98.62,136.90 L99.22,139.75 L99.82,142.60 L100.42,145.45 L101.03,148.30 L101.64,151.15 L102.24,154.00 L102.85,156.85 L103.47,159.69 L104.08,162.54 L104.70,165.39 L105.31,168.24 L105.93,171.09 L106.56,173.94 L107.18,176.78 L107.81,179.63 L108.44,182.47 L109.07,185.32 L109.71,188.16 L110.35,191.01 L111.00,193.85 L111.65,196.69 L112.30,199.53 L112.96,202.37 L113.62,205.21 L114.28,208.04 L114.96,210.88 L115.63,213.71 L116.31,216.54 L117.00,219.37 L117.70,222.20 L118.40,225.03 L119.11,227.85 L119.82,230.67 L120.54,233.49 L121.27,236.31 L122.01,239.12 L122.76,241.93 L123.51,244.74 L124.27,247.55 L125.05,250.35 L125.83,253.15 L126.62,255.95 L127.42,258.75 L128.23,261.54 L129.06,264.32 L129.89,267.11 L130.73,269.89 L131.59,272.66 L132.45,275.44 L133.33,278.20 L134.22,280.97 L135.13,283.73 L136.04,286.48 L136.97,289.24 L137.92,291.98 L138.87,294.73 L139.84,297.46 L140.83,300.20 L141.83,302.93 L142.84,305.65 L143.87,308.37 L144.91,311.08 L145.97,313.79 L147.04,316.49 L148.13,319.19 L149.23,321.88 L150.35,324.57 L151.48,327.25 L152.62,329.93 L153.79,332.60 L154.96,335.26 L156.16,337.92 L157.37,340.57 L158.59,343.21 L159.83,345.85 L161.09,348.49 L162.36,351.11 L163.65,353.73 L164.95,356.34 L166.27,358.95 L167.61,361.55 L168.97,364.14 L170.34,366.72 L171.73,369.30 L173.13,371.86 L174.56,374.42 L176.01,376.96 L177.47,379.50 L178.95,382.03 L180.46,384.54 L181.98,387.05 L183.52,389.54 L185.08,392.02 L186.67,394.48 L188.27,396.93 L189.90,399.37 L191.54,401.79 L193.21,404.20 L194.90,406.59 L196.62,408.96 L198.35,411.31 L200.11,413.65 L201.89,415.96 L203.70,418.26 L205.53,420.54 L207.38,422.79 L209.25,425.03 L211.16,427.24 L213.08,429.43 L215.03,431.59 L217.01,433.74 L219.00,435.85 L221.03,437.95 L223.08,440.01 L225.15,442.05 L227.24,444.07 L229.36,446.05 L231.51,448.01 L233.68,449.94 L235.87,451.84 L238.09,453.71 L240.33,455.55 L242.60,457.36 L244.89,459.14 L247.20,460.88 L249.54,462.59 L251.90,464.27 L254.28,465.92 L256.69,467.54 L259.12,469.12 L261.57,470.67 L264.04,472.19 L266.53,473.67 L269.04,475.12 L271.57,476.54 L274.12,477.93 L276.68,479.28 L279.27,480.60 L281.87,481.89 L284.50,483.15 L287.13,484.37 L289.79,485.56 L292.46,486.71 L295.15,487.83 L297.85,488.92 L300.56,489.98 L303.29,491.01 L306.03,492.00 L308.79,492.97 L311.55,493.90 L314.33,494.81 L317.11,495.68 L319.91,496.53 L322.71,497.35 L325.52,498.14 L328.34,498.90 L331.17,499.64 L334.00,500.35 L336.84,501.04 L339.68,501.70 L342.53,502.34 L345.38,502.95 L348.23,503.54 L351.09,504.11 L353.95,504.65 L356.82,505.17 L359.69,505.68 L362.56,506.16 L365.43,506.62 L368.30,507.06 L371.18,507.48 L374.06,507.89 L376.95,508.27 L379.83,508.64 L382.72,508.99 L385.61,509.33 L388.50,509.64 L391.40,509.94 L394.30,510.23 L397.19,510.50 L400.09,510.76 L403.00,511.00 L405.90,511.23 L408.80,511.45 L411.71,511.65 L414.62,511.84 L417.53,512.02 L420.44,512.19 L423.35,512.35 L426.26,512.50 L429.17,512.63 L432.09,512.76 L435.00,512.88 L437.91,512.99 L440.83,513.10 L443.75,513.20 L446.66,513.29 L449.58,513.37 L452.50,513.45 L455.41,513.52 L458.33,513.58 L461.25,513.65 L464.16,513.71 L467.08,513.76 L470.00,513.81 L472.91,513.86 L475.83,513.91 L478.74,513.95 L481.66,513.99 L484.57,514.03 L487.49,514.07 L490.40,514.10 L493.32,514.13 L496.23,514.16 L499.14,514.19 L502.06,514.22 L504.97,514.24 L507.88,514.26 L510.80,514.28 L513.71,514.30 L516.62,514.32 L519.53,514.34 L522.44,514.35 L525.35,514.36 L528.27,514.37 L531.18,514.38 L534.09,514.39 L537.00,514.39 L539.91,514.40 L542.82,514.40 L545.73,514.40 L548.64,514.40 L551.55,514.40 L554.46,514.40 L557.37,514.40 L560.28,514.40 L563.19,514.39 L566.10,514.39 L569.01,514.38 L571.92,514.37 L574.83,514.37 L577.74,514.36 L580.65,514.35 L583.56,514.34 L586.47,514.33 L589.37,514.32 L592.28,514.30 L595.19,514.29 L598.10,514.28 L601.01,514.27 L603.92,514.26 L606.83,514.24 L609.74,514.23 L612.65,514.22 L615.56,514.20 L618.47,514.19 L621.38,514.18 L624.29,514.16 L627.20,514.15 L630.11,514.14 L633.02,514.12 L635.93,514.11 L638.84,514.10 L641.75,514.09 L644.66,514.07 L647.57,514.06 L650.48,514.05 L653.39,514.04 L656.30,514.03 L659.21,514.02 L662.13,514.01 L665.04,514.00 L667.95,513.99 L670.86,513.98 L673.77,513.97 L676.68,513.96 L679.60,513.96 L682.51,513.95 L685.42,513.94 L688.33,513.93 L691.24,513.92 L694.16,513.92 L697.07,513.91 L699.98,513.90 L702.89,513.89 L705.81,513.89 L708.72,513.88 L711.63,513.87 L714.54,513.87 L717.46,513.86 L720.37,513.85 L723.28,513.85 L726.20,513.84 L729.11,513.84 L732.02,513.83 L734.93,513.82 L737.85,513.82 L740.76,513.81 L743.67,513.80 L746.59,513.80 L749.50,513.79 L752.41,513.79 L755.33,513.78 L758.24,513.77 L761.16,513.77 L764.07,513.76 L766.98,513.76 L769.90,513.75 L772.81,513.74 L775.72,513.74 L778.64,513.73 L781.55,513.72 L784.46,513.72 L787.38,513.71 L790.29,513.70 L793.21,513.70 L796.12,513.69 L799.03,513.68 L801.95,513.67 L804.86,513.67 L807.77,513.66 L810.69,513.65 L813.60,513.64 L816.52,513.63 L819.43,513.63 L822.34,513.62 L825.26,513.61 L828.17,513.60 L831.08,513.59 L834.00,513.58 L836.91,513.57 L839.82,513.56 L842.74,513.55 L845.65,513.54 L848.56,513.52 L851.48,513.51 L854.39,513.50 L857.30,513.49 L860.22,513.48 L863.13,513.46 L866.04,513.45 L868.96,513.43 L871.87,513.42 L874.78,513.41 L877.69,513.39 L880.61,513.38 L883.52,513.36 L886.43,513.34 L889.34,513.33 L892.26,513.31 L895.17,513.29 L898.08,513.27 L900.99,513.26 L903.91,513.24 L906.82,513.22 L909.73,513.20 L912.64,513.18 L915.55,513.16 L918.47,513.13 L921.38,513.11 L924.29,513.09 L927.20,513.07 L929.00,513.05" fill="none" stroke="#0000ff" stroke-width="3.6" stroke-dasharray="12.4 5.3" stroke-linejoin="round"/>
<path d="M78.01,29.32 L78.30,31.10 L78.78,34.00 L79.26,36.89 L79.75,39.78 L80.24,42.68 L80.73,45.57 L81.22,48.46 L81.72,51.36 L82.22,54.25 L82.72,57.14 L83.23,60.03 L83.74,62.92 L84.25,65.81 L84.76,68.70 L85.28,71.59 L85.80,74.48 L86.32,77.36 L86.85,80.25 L87.38,83.14 L87.91,86.03 L88.44,88.91 L88.98,91.80 L89.51,94.68 L90.06,97.57 L90.60,100.45 L91.14,103.33 L91.69,106.22 L92.24,109.10 L92.80,111.98 L93.35,114.87 L93.91,117.75 L94.47,120.63 L95.04,123.51 L95.60,126.39 L96.17,129.27 L96.74,132.15 L97.32,135.03 L97.89,137.91 L98.47,140.79 L99.05,143.67 L99.63,146.54 L100.22,149.42 L100.80,152.30 L101.39,155.17 L101.98,158.05 L102.58,160.93 L103.17,163.80 L103.77,166.68 L104.37,169.55 L104.97,172.43 L105.58,175.30 L106.19,178.17 L106.80,181.05 L107.41,183.92 L108.03,186.79 L108.65,189.66 L109.28,192.53 L109.91,195.40 L110.54,198.27 L111.17,201.13 L111.81,204.00 L112.45,206.87 L113.10,209.73 L113.75,212.59 L114.41,215.45 L115.07,218.31 L115.73,221.17 L116.41,224.03 L117.08,226.89 L117.77,229.74 L118.46,232.59 L119.16,235.44 L119.86,238.29 L120.57,241.13 L121.29,243.98 L122.02,246.82 L122.76,249.65 L123.50,252.49 L124.26,255.32 L125.02,258.15 L125.79,260.98 L126.57,263.80 L127.37,266.62 L128.17,269.44 L128.98,272.25 L129.81,275.06 L130.64,277.87 L131.49,280.67 L132.35,283.47 L133.22,286.26 L134.11,289.05 L135.01,291.84 L135.92,294.62 L136.84,297.40 L137.78,300.17 L138.73,302.94 L139.70,305.70 L140.67,308.46 L141.67,311.22 L142.68,313.97 L143.70,316.71 L144.73,319.45 L145.78,322.19 L146.84,324.92 L147.92,327.65 L149.01,330.37 L150.11,333.09 L151.23,335.80 L152.37,338.51 L153.51,341.22 L154.67,343.92 L155.85,346.61 L157.04,349.30 L158.24,351.99 L159.45,354.67 L160.69,357.34 L161.93,360.01 L163.19,362.68 L164.46,365.34 L165.75,367.99 L167.06,370.64 L168.38,373.28 L169.72,375.91 L171.08,378.53 L172.45,381.15 L173.84,383.75 L175.25,386.35 L176.68,388.93 L178.13,391.50 L179.60,394.07 L181.09,396.61 L182.60,399.15 L184.14,401.67 L185.69,404.18 L187.27,406.67 L188.87,409.15 L190.49,411.60 L192.14,414.05 L193.81,416.47 L195.51,418.88 L197.23,421.27 L198.97,423.63 L200.74,425.98 L202.54,428.31 L204.37,430.61 L206.22,432.89 L208.10,435.15 L210.01,437.39 L211.94,439.60 L213.90,441.79 L215.89,443.95 L217.90,446.09 L219.95,448.20 L222.01,450.28 L224.11,452.33 L226.23,454.36 L228.37,456.36 L230.54,458.33 L232.74,460.26 L234.96,462.17 L237.21,464.04 L239.48,465.89 L241.78,467.70 L244.10,469.48 L246.45,471.22 L248.82,472.93 L251.21,474.61 L253.63,476.25 L256.07,477.85 L258.53,479.43 L261.02,480.96 L263.52,482.46 L266.05,483.93 L268.60,485.36 L271.17,486.75 L273.76,488.10 L276.37,489.42 L279.00,490.70 L281.65,491.94 L284.32,493.14 L287.01,494.30 L289.71,495.43 L292.43,496.51 L295.17,497.56 L297.92,498.58 L300.69,499.55 L303.47,500.50 L306.27,501.40 L309.08,502.28 L311.90,503.12 L314.73,503.93 L317.57,504.71 L320.42,505.46 L323.28,506.18 L326.14,506.87 L329.01,507.53 L331.89,508.17 L334.77,508.78 L337.66,509.36 L340.55,509.92 L343.45,510.45 L346.34,510.96 L349.24,511.44 L352.15,511.91 L355.05,512.35 L357.95,512.77 L360.86,513.17 L363.77,513.55 L366.68,513.91 L369.60,514.25 L372.51,514.58 L375.43,514.88 L378.35,515.17 L381.27,515.44 L384.19,515.69 L387.11,515.93 L390.04,516.15 L392.96,516.35 L395.89,516.54 L398.82,516.72 L401.75,516.88 L404.68,517.03 L407.61,517.17 L410.54,517.29 L413.47,517.41 L416.41,517.51 L419.34,517.60 L422.28,517.68 L425.21,517.75 L428.15,517.81 L431.09,517.87 L434.03,517.91 L436.97,517.95 L439.90,517.98 L442.84,518.01 L445.78,518.03 L448.72,518.04 L451.66,518.05 L454.60,518.05 L457.54,518.05 L460.48,518.05 L463.42,518.04 L466.36,518.03 L469.30,518.02 L472.24,518.01 L475.18,517.99 L478.11,517.97 L481.05,517.96 L483.99,517.94 L486.93,517.92 L489.87,517.90 L492.80,517.88 L495.74,517.85 L498.68,517.83 L501.61,517.80 L504.55,517.78 L507.49,517.75 L510.42,517.72 L513.36,517.70 L516.30,517.67 L519.23,517.64 L522.17,517.61 L525.10,517.57 L528.04,517.54 L530.97,517.51 L533.91,517.48 L536.84,517.44 L539.78,517.41 L542.71,517.37 L545.65,517.33 L548.58,517.30 L551.52,517.26 L554.45,517.22 L557.39,517.19 L560.32,517.15 L563.25,517.11 L566.19,517.07 L569.12,517.03 L572.06,516.99 L574.99,516.95 L577.92,516.91 L580.86,516.87 L583.79,516.83 L586.72,516.79 L589.66,516.74 L592.59,516.70 L595.52,516.66 L598.46,516.62 L601.39,516.58 L604.32,516.54 L607.26,516.50 L610.19,516.45 L613.12,516.41 L616.06,516.37 L618.99,516.33 L621.92,516.29 L624.86,516.25 L627.79,516.21 L630.72,516.17 L633.66,516.13 L636.59,516.09 L639.53,516.05 L642.46,516.01 L645.39,515.97 L648.33,515.93 L651.26,515.89 L654.19,515.85 L657.13,515.82 L660.06,515.78 L663.00,515.74 L665.93,515.71 L668.86,515.67 L671.80,515.63 L674.73,515.60 L677.67,515.56 L680.60,515.53 L683.53,515.49 L686.47,515.46 L689.40,515.42 L692.34,515.39 L695.27,515.35 L698.21,515.32 L701.14,515.29 L704.07,515.25 L707.01,515.22 L709.94,515.19 L712.88,515.16 L715.81,515.12 L718.75,515.09 L721.68,515.06 L724.62,515.03 L727.55,515.00 L730.49,514.97 L733.42,514.94 L736.36,514.91 L739.29,514.88 L742.23,514.85 L745.16,514.82 L748.10,514.79 L751.03,514.76 L753.97,514.73 L756.90,514.70 L759.84,514.67 L762.77,514.65 L765.71,514.62 L768.64,514.59 L771.58,514.56 L774.51,514.54 L777.45,514.51 L780.38,514.48 L783.32,514.46 L786.26,514.43 L789.19,514.41 L792.13,514.38 L795.06,514.36 L798.00,514.33 L800.93,514.31 L803.87,514.28 L806.80,514.26 L809.74,514.23 L812.68,514.21 L815.61,514.19 L818.55,514.16 L821.48,514.14 L824.42,514.12 L827.36,514.09 L830.29,514.07 L833.23,514.05 L836.16,514.03 L839.10,514.00 L842.04,513.98 L844.97,513.96 L847.91,513.94 L850.85,513.92 L853.78,513.90 L856.72,513.88 L859.65,513.86 L862.59,513.83 L865.53,513.81 L868.46,513.79 L871.40,513.77 L874.34,513.76 L877.27,513.74 L880.21,513.72 L883.15,513.70 L886.08,513.68 L889.02,513.66 L891.96,513.64 L894.89,513.62 L897.83,513.61 L900.77,513.59 L903.70,513.57 L906.64,513.55 L909.58,513.53 L912.51,513.52 L915.45,513.50 L918.39,513.48 L921.33,513.47 L924.26,513.45 L927.20,513.43 L929.00,513.42" fill="none" stroke="#ff00ff" stroke-width="3.6" stroke-dasharray="12.4 5.3" stroke-linejoin="round"/>
<path d="M78.01,29.32 L78.30,31.10 L78.77,34.02 L79.25,36.94 L79.72,39.86 L80.20,42.78 L80.68,45.69 L81.16,48.61 L81.64,51.53 L82.13,54.45 L82.62,57.36 L83.11,60.28 L83.60,63.20 L84.09,66.12 L84.59,69.03 L85.08,71.95 L85.58,74.86 L86.09,77.78 L86.59,80.69 L87.10,83.61 L87.61,86.52 L88.12,89.44 L88.63,92.35 L89.14,95.27 L89.66,98.18 L90.18,101.09 L90.70,104.00 L91.23,106.92 L91.76,109.83 L92.29,112.74 L92.82,115.65 L93.35,118.56 L93.89,121.47 L94.43,124.38 L94.97,127.29 L95.52,130.20 L96.06,133.11 L96.61,136.01 L97.17,138.92 L97.72,141.83 L98.28,144.73 L98.84,147.64 L99.40,150.54 L99.97,153.45 L100.54,156.35 L101.11,159.26 L101.69,162.16 L102.26,165.06 L102.84,167.96 L103.43,170.87 L104.01,173.77 L104.60,176.67 L105.19,179.57 L105.79,182.46 L106.39,185.36 L106.99,188.26 L107.59,191.16 L108.20,194.05 L108.81,196.95 L109.43,199.84 L110.04,202.74 L110.66,205.63 L111.29,208.52 L111.92,211.42 L112.55,214.31 L113.18,217.20 L113.82,220.09 L114.47,222.97 L115.11,225.86 L115.77,228.75 L116.43,231.63 L117.10,234.51 L117.77,237.39 L118.45,240.27 L119.13,243.14 L119.83,246.02 L120.53,248.89 L121.24,251.76 L121.96,254.63 L122.68,257.49 L123.42,260.35 L124.16,263.21 L124.91,266.07 L125.68,268.92 L126.45,271.77 L127.23,274.61 L128.03,277.46 L128.83,280.30 L129.65,283.13 L130.48,285.97 L131.32,288.79 L132.17,291.62 L133.04,294.44 L133.92,297.26 L134.81,300.07 L135.71,302.88 L136.63,305.68 L137.56,308.48 L138.51,311.27 L139.47,314.07 L140.44,316.85 L141.42,319.64 L142.42,322.41 L143.43,325.19 L144.46,327.96 L145.49,330.73 L146.54,333.50 L147.60,336.26 L148.68,339.01 L149.77,341.77 L150.87,344.52 L151.98,347.27 L153.10,350.01 L154.24,352.75 L155.39,355.49 L156.55,358.22 L157.72,360.95 L158.91,363.68 L160.11,366.41 L161.32,369.13 L162.54,371.85 L163.78,374.56 L165.03,377.26 L166.30,379.96 L167.59,382.65 L168.89,385.33 L170.21,388.00 L171.55,390.67 L172.91,393.32 L174.29,395.96 L175.69,398.59 L177.10,401.21 L178.54,403.81 L180.00,406.41 L181.49,408.98 L183.00,411.55 L184.53,414.09 L186.08,416.62 L187.66,419.14 L189.27,421.63 L190.90,424.11 L192.56,426.57 L194.25,429.01 L195.96,431.42 L197.71,433.82 L199.48,436.20 L201.29,438.55 L203.12,440.88 L204.98,443.19 L206.88,445.47 L208.80,447.73 L210.75,449.96 L212.73,452.16 L214.74,454.34 L216.78,456.49 L218.85,458.62 L220.94,460.71 L223.06,462.78 L225.21,464.81 L227.39,466.82 L229.59,468.79 L231.82,470.73 L234.08,472.64 L236.36,474.51 L238.66,476.36 L241.00,478.16 L243.35,479.94 L245.74,481.67 L248.14,483.37 L250.57,485.04 L253.03,486.66 L255.51,488.25 L258.01,489.80 L260.54,491.31 L263.09,492.78 L265.66,494.21 L268.25,495.60 L270.87,496.94 L273.51,498.24 L276.17,499.50 L278.85,500.72 L281.55,501.89 L284.27,503.02 L287.02,504.10 L289.78,505.14 L292.56,506.14 L295.35,507.10 L298.16,508.03 L300.99,508.91 L303.83,509.75 L306.68,510.56 L309.55,511.34 L312.43,512.08 L315.31,512.78 L318.21,513.46 L321.11,514.10 L324.02,514.71 L326.94,515.30 L329.87,515.85 L332.79,516.38 L335.73,516.88 L338.66,517.36 L341.60,517.81 L344.53,518.24 L347.47,518.64 L350.41,519.03 L353.35,519.39 L356.30,519.73 L359.24,520.04 L362.18,520.34 L365.13,520.62 L368.08,520.88 L371.02,521.12 L373.97,521.34 L376.92,521.55 L379.87,521.73 L382.82,521.91 L385.78,522.06 L388.73,522.20 L391.68,522.33 L394.64,522.44 L397.59,522.53 L400.55,522.62 L403.51,522.69 L406.46,522.74 L409.42,522.79 L412.38,522.83 L415.34,522.85 L418.30,522.87 L421.26,522.87 L424.22,522.87 L427.18,522.85 L430.14,522.83 L433.10,522.81 L436.06,522.77 L439.02,522.73 L441.99,522.69 L444.95,522.64 L447.91,522.58 L450.87,522.52 L453.83,522.46 L456.80,522.39 L459.76,522.32 L462.72,522.25 L465.68,522.18 L468.65,522.10 L471.61,522.03 L474.57,521.96 L477.53,521.88 L480.49,521.81 L483.45,521.74 L486.42,521.66 L489.38,521.59 L492.34,521.52 L495.30,521.44 L498.26,521.37 L501.22,521.29 L504.18,521.22 L507.14,521.15 L510.10,521.07 L513.06,521.00 L516.02,520.93 L518.98,520.85 L521.94,520.78 L524.90,520.70 L527.86,520.63 L530.82,520.56 L533.78,520.48 L536.74,520.41 L539.70,520.34 L542.66,520.27 L545.62,520.19 L548.57,520.12 L551.53,520.05 L554.49,519.97 L557.45,519.90 L560.41,519.83 L563.37,519.76 L566.32,519.68 L569.28,519.61 L572.24,519.54 L575.20,519.47 L578.16,519.40 L581.11,519.33 L584.07,519.25 L587.03,519.18 L589.99,519.11 L592.94,519.04 L595.90,518.97 L598.86,518.90 L601.82,518.83 L604.77,518.76 L607.73,518.69 L610.69,518.62 L613.65,518.55 L616.60,518.48 L619.56,518.42 L622.52,518.35 L625.47,518.28 L628.43,518.21 L631.39,518.14 L634.34,518.08 L637.30,518.01 L640.26,517.94 L643.21,517.88 L646.17,517.81 L649.13,517.74 L652.08,517.68 L655.04,517.61 L658.00,517.55 L660.95,517.48 L663.91,517.42 L666.87,517.36 L669.82,517.29 L672.78,517.23 L675.74,517.17 L678.69,517.10 L681.65,517.04 L684.60,516.98 L687.56,516.92 L690.52,516.86 L693.47,516.80 L696.43,516.74 L699.39,516.68 L702.34,516.62 L705.30,516.56 L708.26,516.50 L711.21,516.44 L714.17,516.39 L717.12,516.33 L720.08,516.27 L723.04,516.22 L725.99,516.16 L728.95,516.11 L731.91,516.05 L734.86,516.00 L737.82,515.94 L740.78,515.89 L743.73,515.84 L746.69,515.78 L749.65,515.73 L752.60,515.68 L755.56,515.63 L758.52,515.58 L761.47,515.53 L764.43,515.48 L767.39,515.43 L770.35,515.39 L773.30,515.34 L776.26,515.29 L779.22,515.24 L782.17,515.20 L785.13,515.15 L788.09,515.11 L791.05,515.07 L794.00,515.02 L796.96,514.98 L799.92,514.94 L802.88,514.90 L805.84,514.86 L808.79,514.82 L811.75,514.78 L814.71,514.74 L817.67,514.70 L820.63,514.66 L823.58,514.62 L826.54,514.59 L829.50,514.55 L832.46,514.52 L835.42,514.48 L838.38,514.45 L841.34,514.42 L844.30,514.38 L847.26,514.35 L850.21,514.32 L853.17,514.29 L856.13,514.26 L859.09,514.24 L862.05,514.21 L865.01,514.18 L867.97,514.15 L870.93,514.13 L873.89,514.10 L876.85,514.08 L879.81,514.06 L882.77,514.04 L885.73,514.01 L888.70,513.99 L891.66,513.97 L894.62,513.95 L897.58,513.94 L900.54,513.92 L903.50,513.90 L906.46,513.89 L909.43,513.87 L912.39,513.86 L915.35,513.84 L918.31,513.83 L921.27,513.82 L924.24,513.81 L927.20,513.80 L929.00,513.79" fill="none" stroke="#000000" stroke-width="3.6" stroke-dasharray="12.4 5.3" stroke-linejoin="round"/>
<path d="M293.40,315.60 L265.40,359.86" stroke="#000" stroke-width="2.2" fill="none"/><path d="M253.10,379.30 L272.51,361.52 L265.13,360.29 L260.85,354.15 Z" fill="#000" stroke="none"/>
<path d="M263.80,439.00 L235.62,482.41" stroke="#000" stroke-width="2.2" fill="none"/><path d="M223.10,501.70 L242.86,484.12 L235.35,482.83 L231.11,476.50 Z" fill="#000" stroke="none"/>
<rect x="60.8" y="3.8" width="884.0" height="546.0" fill="none" stroke="#000" stroke-width="3.5"/>
<path d="M78.30,548.05v-4.6 M78.30,5.55v4.6 M112.26,548.05v-2.6 M112.26,5.55v2.6 M146.21,548.05v-2.6 M146.21,5.55v2.6 M180.17,548.05v-2.6 M180.17,5.55v2.6 M214.12,548.05v-2.6 M214.12,5.55v2.6 M248.08,548.05v-4.6 M248.08,5.55v4.6 M282.04,548.05v-2.6 M282.04,5.55v2.6 M315.99,548.05v-2.6 M315.99,5.55v2.6 M349.95,548.05v-2.6 M349.95,5.55v2.6 M383.90,548.05v-2.6 M383.90,5.55v2.6 M417.86,548.05v-4.6 M417.86,5.55v4.6 M451.82,548.05v-2.6 M451.82,5.55v2.6 M485.77,548.05v-2.6 M485.77,5.55v2.6 M519.73,548.05v-2.6 M519.73,5.55v2.6 M553.68,548.05v-2.6 M553.68,5.55v2.6 M587.64,548.05v-4.6 M587.64,5.55v4.6 M621.60,548.05v-2.6 M621.60,5.55v2.6 M655.55,548.05v-2.6 M655.55,5.55v2.6 M689.51,548.05v-2.6 M689.51,5.55v2.6 M723.46,548.05v-2.6 M723.46,5.55v2.6 M757.42,548.05v-4.6 M757.42,5.55v4.6 M791.38,548.05v-2.6 M791.38,5.55v2.6 M825.33,548.05v-2.6 M825.33,5.55v2.6 M859.29,548.05v-2.6 M859.29,5.55v2.6 M893.24,548.05v-2.6 M893.24,5.55v2.6 M927.20,548.05v-4.6 M927.20,5.55v4.6 M62.55,536.88h2.6 M943.05,536.88h-2.6 M62.55,512.80h4.6 M943.05,512.80h-4.6 M62.55,488.71h2.6 M943.05,488.71h-2.6 M62.55,464.63h2.6 M943.05,464.63h-2.6 M62.55,440.54h2.6 M943.05,440.54h-2.6 M62.55,416.46h4.6 M943.05,416.46h-4.6 M62.55,392.38h2.6 M943.05,392.38h-2.6 M62.55,368.29h2.6 M943.05,368.29h-2.6 M62.55,344.20h2.6 M943.05,344.20h-2.6 M62.55,320.12h4.6 M943.05,320.12h-4.6 M62.55,296.03h2.6 M943.05,296.03h-2.6 M62.55,271.95h2.6 M943.05,271.95h-2.6 M62.55,247.86h2.6 M943.05,247.86h-2.6 M62.55,223.78h4.6 M943.05,223.78h-4.6 M62.55,199.69h2.6 M943.05,199.69h-2.6 M62.55,175.61h2.6 M943.05,175.61h-2.6 M62.55,151.52h2.6 M943.05,151.52h-2.6 M62.55,127.44h4.6 M943.05,127.44h-4.6 M62.55,103.35h2.6 M943.05,103.35h-2.6 M62.55,79.27h2.6 M943.05,79.27h-2.6 M62.55,55.19h2.6 M943.05,55.19h-2.6 M62.55,31.10h4.6 M943.05,31.10h-4.6 M62.55,7.01h2.6 M943.05,7.01h-2.6" stroke="#000" stroke-width="3.4" fill="none"/>
<g style="font-family:'Liberation Sans', Arial, Helvetica, sans-serif;font-weight:bold;font-size:19.8px" fill="#000" stroke="#000" stroke-width="0.6"><text transform="translate(52.9,38.40) scale(0.834,1)" text-anchor="end">1.0</text><text transform="translate(52.9,134.74) scale(0.834,1)" text-anchor="end">0.8</text><text transform="translate(52.9,231.08) scale(0.834,1)" text-anchor="end">0.6</text><text transform="translate(52.9,327.42) scale(0.834,1)" text-anchor="end">0.4</text><text transform="translate(52.9,423.76) scale(0.834,1)" text-anchor="end">0.2</text><text transform="translate(52.9,520.10) scale(0.834,1)" text-anchor="end">0.0</text><text transform="translate(77.90,572.0) scale(0.90,1)" text-anchor="middle">0</text><text transform="translate(247.68,572.0) scale(0.90,1)" text-anchor="middle">1</text><text transform="translate(417.46,572.0) scale(0.90,1)" text-anchor="middle">2</text><text transform="translate(587.24,572.0) scale(0.90,1)" text-anchor="middle">3</text><text transform="translate(757.02,572.0) scale(0.90,1)" text-anchor="middle">4</text><text transform="translate(926.80,572.0) scale(0.90,1)" text-anchor="middle">5</text></g>
<text transform="translate(497.60,602.03) scale(0.9752,1)" style="font-family:'Liberation Sans', Arial, Helvetica, sans-serif;font-weight:bold;font-style:italic;font-size:25.53px" fill="#000" stroke="#000" stroke-width="0.4">ξ</text>
<text transform="translate(19.4,299.9) rotate(-90) scale(1,1.14)" style="font-family:'Liberation Sans', Arial, Helvetica, sans-serif;font-weight:bold;font-size:25px">Φ</text><text transform="translate(19.4,281.5) rotate(-90)" style="font-family:'Liberation Sans', Arial, Helvetica, sans-serif;font-weight:bold;font-size:26px">(ξ)</text>
<path d="M216,60.9H338" stroke="#000" stroke-width="4.5"/>
<path d="M219.9,209.3H331.2" stroke="#000" stroke-width="4.4" stroke-dasharray="13.7 5.78"/>
<text transform="translate(356.5,72.0) scale(1.28,1) skewX(-19)" style="font-family:'Liberation Serif', 'Times New Roman', Times, serif;font-style:italic;font-size:38px" stroke="#000" stroke-width="0.45">ϕ</text>
<text transform="translate(380.82,77.93) scale(0.9588,1)" style="font-family:'Liberation Sans', Arial, Helvetica, sans-serif;font-weight:normal;font-style:italic;font-size:27.46px" fill="#000">Cu</text>
<text transform="translate(415.51,77.93) scale(1.0254,1)" style="font-family:'Liberation Sans', Arial, Helvetica, sans-serif;font-weight:normal;font-style:italic;font-size:27.46px" fill="#000">+</text>
<text transform="translate(431.12,78.20) scale(0.9634,1)" style="font-family:'Liberation Sans', Arial, Helvetica, sans-serif;font-weight:normal;font-style:italic;font-size:27.46px" fill="#000">Al</text>
<text transform="translate(456.00,82.40) scale(0.8679,1)" style="font-family:'Liberation Sans', Arial, Helvetica, sans-serif;font-weight:normal;font-style:italic;font-size:16.86px" fill="#000">2</text>
<text transform="translate(472.11,78.02) scale(0.9272,1)" style="font-family:'Liberation Sans', Arial, Helvetica, sans-serif;font-weight:normal;font-style:italic;font-size:27.89px" fill="#000">O</text>
<text transform="translate(492.30,82.90) scale(0.9401,1)" style="font-family:'Liberation Sans', Arial, Helvetica, sans-serif;font-weight:normal;font-style:italic;font-size:18.71px" fill="#000">3</text>
<text transform="translate(520.13,71.92) scale(0.9775,1)" style="font-family:'Liberation Sans', Arial, Helvetica, sans-serif;font-weight:normal;font-style:normal;font-size:38.31px" fill="#000"><tspan dy="3.95" stroke="#000" stroke-width="0.6">=</tspan><tspan dy="-3.95">0.01, 0.02, 0.03, 0.04</tspan></text>
<text transform="translate(335.92,128.02) scale(0.9793,1)" style="font-family:'Liberation Sans', Arial, Helvetica, sans-serif;font-weight:normal;font-style:normal;font-size:38.38px" fill="#000">for Schmidth number Sc<tspan dy="3.0" stroke="#000" stroke-width="0.5">=</tspan></text>
<text transform="translate(763.18,127.75) scale(0.7366,1)" style="font-family:'Liberation Serif', 'Times New Roman', Times, serif;font-weight:normal;font-style:normal;font-size:38.79px" fill="#000" stroke="#000" stroke-width="0.5">1</text>
<text transform="translate(364.9,217.3) scale(1.28,1) skewX(-19)" style="font-family:'Liberation Serif', 'Times New Roman', Times, serif;font-style:italic;font-size:38px" stroke="#000" stroke-width="0.45">ϕ</text>
<text transform="translate(390.14,223.73) scale(0.9436,1)" style="font-family:'Liberation Sans', Arial, Helvetica, sans-serif;font-weight:normal;font-style:italic;font-size:27.46px" fill="#000">Cu</text>
<text transform="translate(439.23,217.32) scale(0.9737,1)" style="font-family:'Liberation Sans', Arial, Helvetica, sans-serif;font-weight:normal;font-style:normal;font-size:38.45px" fill="#000"><tspan dy="4.0" stroke="#000" stroke-width="0.6">=</tspan><tspan dy="-4.0">0.01, 0.02, 0.03, 0.04</tspan></text>
<text transform="translate(345.22,270.46) scale(1.0130,1)" style="font-family:'Liberation Serif', 'Times New Roman', Times, serif;font-weight:normal;font-style:normal;font-size:37.06px" fill="#000" stroke="#000" stroke-width="0.5">for Schmidth number</text>
<text transform="translate(686.72,269.91) scale(0.9752,1)" style="font-family:'Liberation Sans', Arial, Helvetica, sans-serif;font-weight:normal;font-style:normal;font-size:38.59px" fill="#000">Sc<tspan dy="4.4" stroke="#000" stroke-width="0.6">=</tspan></text>
<text transform="translate(753.04,269.67) scale(0.8568,1)" style="font-family:'Liberation Serif', 'Times New Roman', Times, serif;font-weight:normal;font-style:normal;font-size:37.58px" fill="#000" stroke="#000" stroke-width="0.5">3</text>
</svg>
</body></html>
